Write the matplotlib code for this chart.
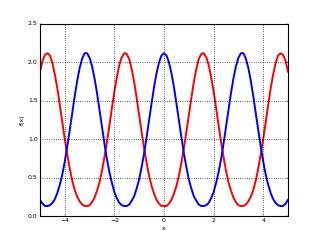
import matplotlib
matplotlib.use('Agg')
import matplotlib.pyplot as plt
import numpy as np

plt.style.use('classic')

# x positions, step 0.1 from -5 to 5
x_vals = [round(-5 + 0.1 * i, 1) for i in range(101)]

# values for x = 0.0 ... 5.0 (both curves are even in x)
blue_half = [2.12, 2.09, 2.00, 1.86, 1.68, 1.47, 1.25, 1.03, 0.82, 0.64,
             0.48, 0.36, 0.26, 0.20, 0.15, 0.13, 0.13, 0.14, 0.17, 0.23,
             0.31, 0.43, 0.57, 0.74, 0.94, 1.16, 1.38, 1.60, 1.79, 1.95,
             2.06, 2.12, 2.12, 2.05, 1.93, 1.76, 1.56, 1.34, 1.12, 0.91,
             0.71, 0.54, 0.41, 0.30, 0.22, 0.17, 0.14, 0.13, 0.13, 0.16,
             0.21]
red_half = [0.13, 0.13, 0.16, 0.21, 0.29, 0.39, 0.52, 0.69, 0.88, 1.09,
            1.31, 1.53, 1.74, 1.91, 2.04, 2.11, 2.12, 2.07, 1.97, 1.81,
            1.62, 1.41, 1.18, 0.97, 0.77, 0.59, 0.44, 0.33, 0.24, 0.18,
            0.14, 0.13, 0.13, 0.15, 0.19, 0.25, 0.34, 0.46, 0.62, 0.80,
            1.00, 1.22, 1.44, 1.66, 1.84, 1.99, 2.09, 2.12, 2.10, 2.02,
            1.88]

blue_vals = blue_half[:0:-1] + blue_half
red_vals = red_half[:0:-1] + red_half

y_ticks = [0.0, 0.5, 1.0, 1.5, 2.0, 2.5]
x_ticks = [-4, -2, 0, 2, 4]

fig = plt.figure(figsize=(8, 6), dpi=40)
ax = fig.add_subplot(111)
ax.plot(x_vals, red_vals, color='red', linewidth=3.5)
ax.plot(x_vals, blue_vals, color='blue', linewidth=3.5)
ax.set_xlim(-5, 5)
ax.set_ylim(0, 2.5)
ax.set_xticks(x_ticks)
ax.set_yticks(y_ticks)
ax.grid(True, color='k', linestyle=':', linewidth=1.8)
ax.set_xlabel('x', fontsize=11)
ax.set_ylabel('f(x)', fontsize=11)
ax.tick_params(labelsize=11)
for sp in ax.spines.values():
    sp.set_linewidth(2)

fig.savefig('out.png', dpi=40, facecolor='white')
